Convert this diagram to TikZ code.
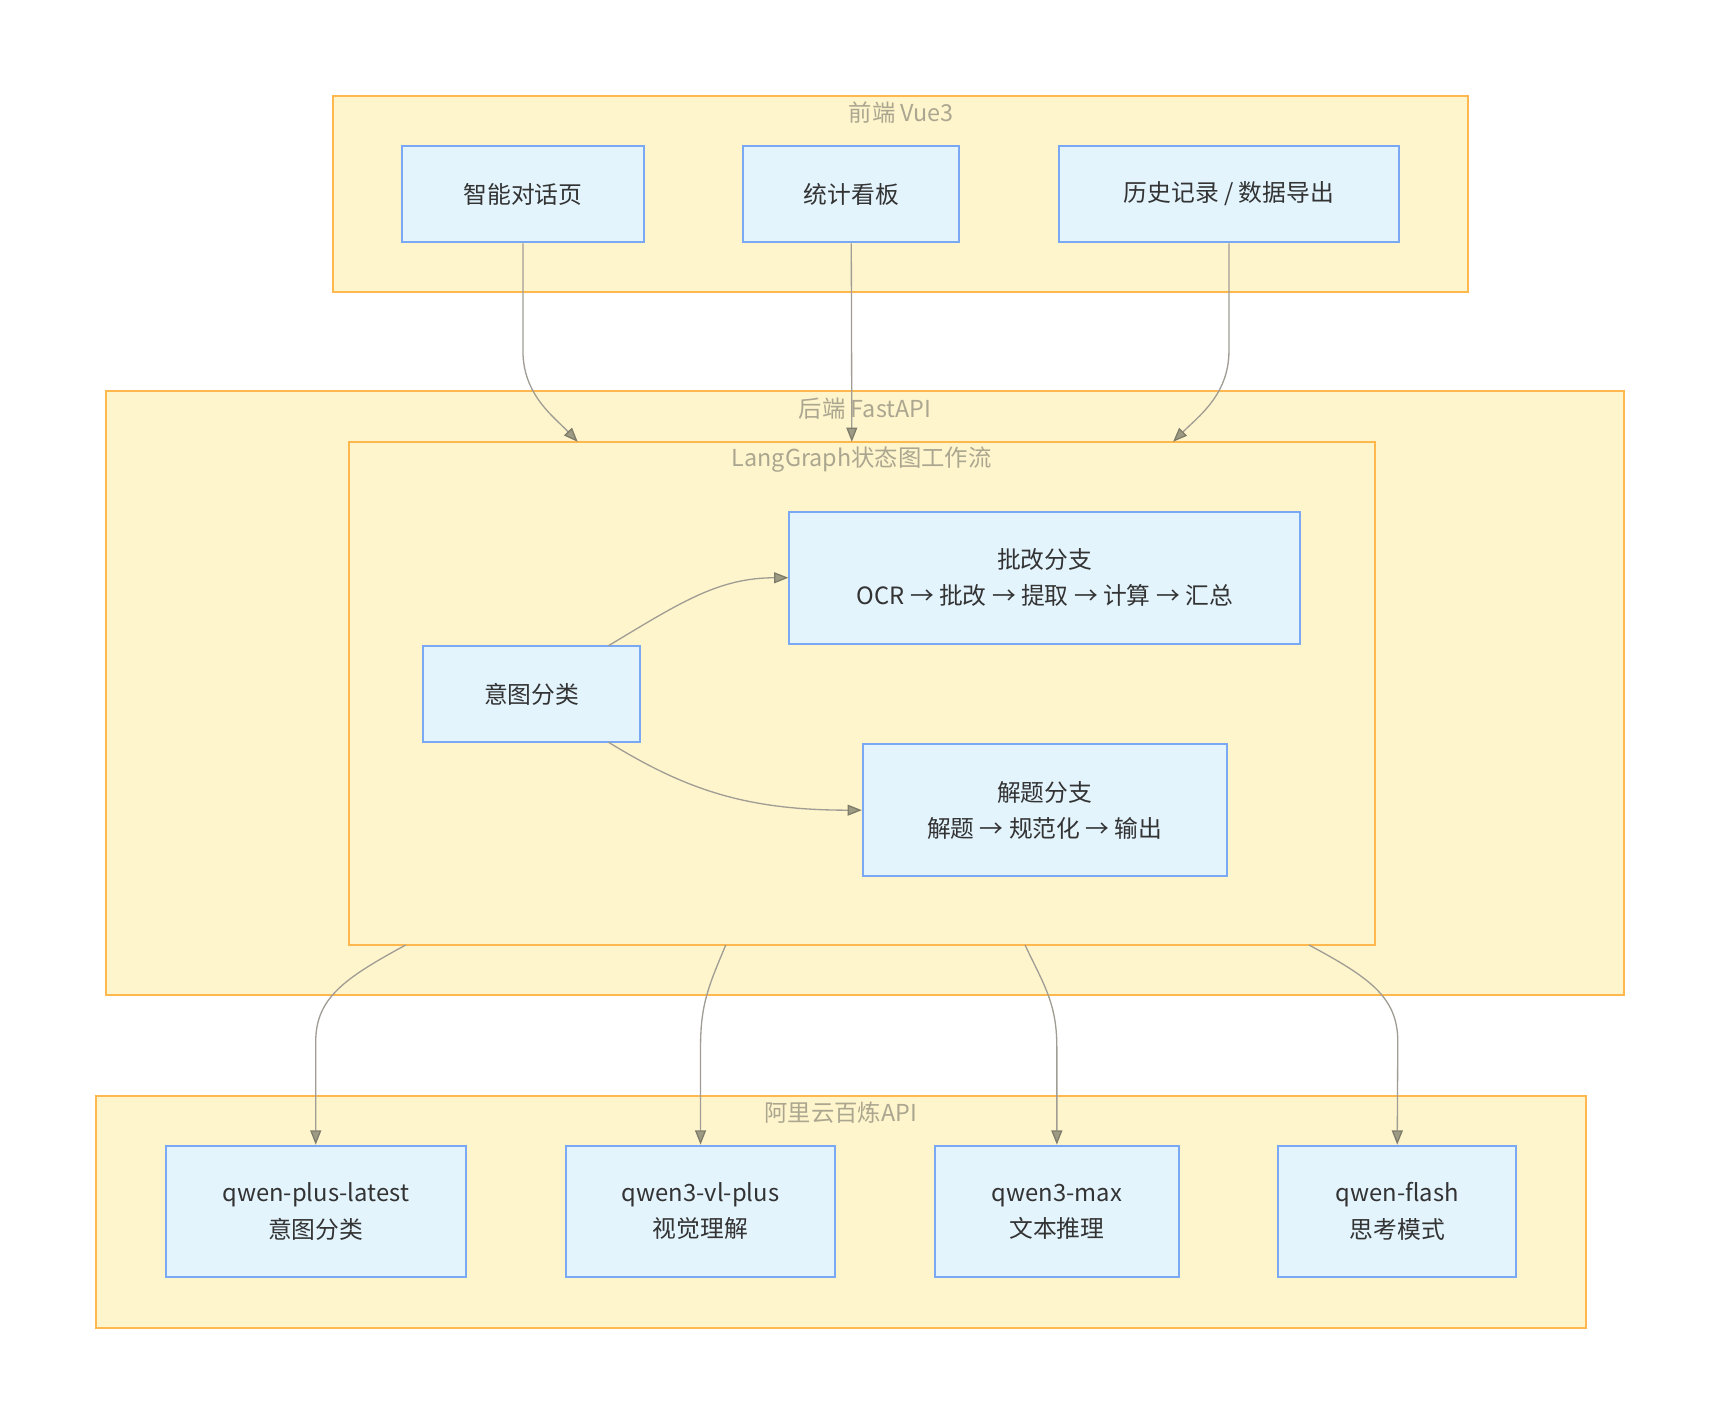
\documentclass[tikz,border=0pt]{standalone}
\usepackage{fontspec}
\setmainfont{Noto Sans CJK SC}
\usetikzlibrary{arrows.meta}
\definecolor{clfill}{HTML}{FFF5CC}
\definecolor{clline}{HTML}{FFB84D}
\definecolor{ndfill}{HTML}{E3F4FD}
\definecolor{ndline}{HTML}{7AA8F2}
\definecolor{edline}{HTML}{A09D94}
\definecolor{tipfill}{HTML}{9E9B84}
\definecolor{cltext}{HTML}{ABA690}
\definecolor{ndtext}{HTML}{333333}
\tikzset{
  cluster/.style={draw=clline, fill=clfill, line width=1.8pt, inner sep=0pt, rectangle},
  cltitle/.style={text=cltext, font=\fontsize{21.3}{24}\selectfont, inner sep=0pt},
  ndbox/.style={draw=ndline, fill=ndfill, line width=1.8pt, inner sep=0pt, rectangle,
    text=ndtext, font=\fontsize{21.7}{33}\selectfont, align=center},
  edge/.style={draw=edline, line width=1.2pt,
    -{Triangle[length=13pt,width=10pt,fill=tipfill,color=tipfill!80!black]}},
}
\begin{document}
\begin{tikzpicture}[x=1pt,y=-1pt]
\useasboundingbox (0,0) rectangle (1568,1299);
\fill[white] (0,0) rectangle (1568,1299);
% clusters
\node[cluster, minimum width=1035, minimum height=178] (fe) at (821.5,177) {};
\node[cltitle] (feT) at (822,103) {前端 Vue3};
\node[cluster, minimum width=1384, minimum height=551] (be) at (789,632.5) {};
\node[cltitle] (beT) at (789,373) {后端 FastAPI};
\node[cluster, minimum width=936, minimum height=459] (lg) at (786,632.5) {};
\node[cltitle] (lgT) at (786,419) {LangGraph状态图工作流};
\node[cluster, minimum width=1359, minimum height=211] (al) at (767.5,1105.5) {};
\node[cltitle] (alT) at (767,1015) {阿里云百炼API};
% nodes
\node[ndbox, minimum width=220, minimum height=88] (fe1) at (477,177) {智能对话页};
\node[ndbox, minimum width=197, minimum height=88] (fe2) at (776.5,177) {统计看板};
\node[ndbox, minimum width=310, minimum height=88] (fe3) at (1121,177) {历史记录 / 数据导出};
\node[ndbox, minimum width=198, minimum height=88] (intent) at (485,633) {意图分类};
\node[ndbox, minimum width=466, minimum height=120] (grade) at (953,527) {批改分支\\OCR → 批改 → 提取 → 计算 → 汇总};
\node[ndbox, minimum width=332, minimum height=120] (solve) at (953,739) {解题分支\\解题 → 规范化 → 输出};
\node[ndbox, minimum width=274, minimum height=120] (m1) at (288,1105) {qwen-plus-latest\\意图分类};
\node[ndbox, minimum width=246, minimum height=120] (m2) at (639,1105) {qwen3-vl-plus\\视觉理解};
\node[ndbox, minimum width=222, minimum height=120] (m3) at (964,1105) {qwen3-max\\文本推理};
\node[ndbox, minimum width=217, minimum height=120] (m4) at (1274.5,1105) {qwen-flash\\思考模式};
% connector end points on cluster borders
\coordinate (lgIn1) at (527,403);
\coordinate (lgIn2) at (777,403);
\coordinate (lgIn3) at (1070,403);
\coordinate (lgOut1) at (370,862);
\coordinate (lgOut2) at (662,862);
\coordinate (lgOut3) at (935,862);
\coordinate (lgOut4) at (1194,862);
\coordinate (inA) at (555,589);
\coordinate (inB) at (555,677);
% edges
\draw[edge] (fe1.south) -- (477,320) .. controls (477,360) and (505,380) .. (lgIn1);
\draw[edge] (fe2.south) -- (lgIn2);
\draw[edge] (fe3.south) -- (1121,320) .. controls (1121,360) and (1093,380) .. (lgIn3);
\draw[edge] (inA) .. controls (620,550) and (655,527) .. (grade.west);
\draw[edge] (inB) .. controls (625,720) and (680,739) .. (solve.west);
\draw[edge] (lgOut1) .. controls (315,892) and (288,910) .. (288,950) -- (m1.north);
\draw[edge] (lgOut2) .. controls (647,898) and (639,915) .. (639,955) -- (m2.north);
\draw[edge] (lgOut3) .. controls (952,898) and (964,915) .. (964,955) -- (m3.north);
\draw[edge] (lgOut4) .. controls (1250,892) and (1275,910) .. (1275,950) -- (m4.north);
\end{tikzpicture}
\end{document}
